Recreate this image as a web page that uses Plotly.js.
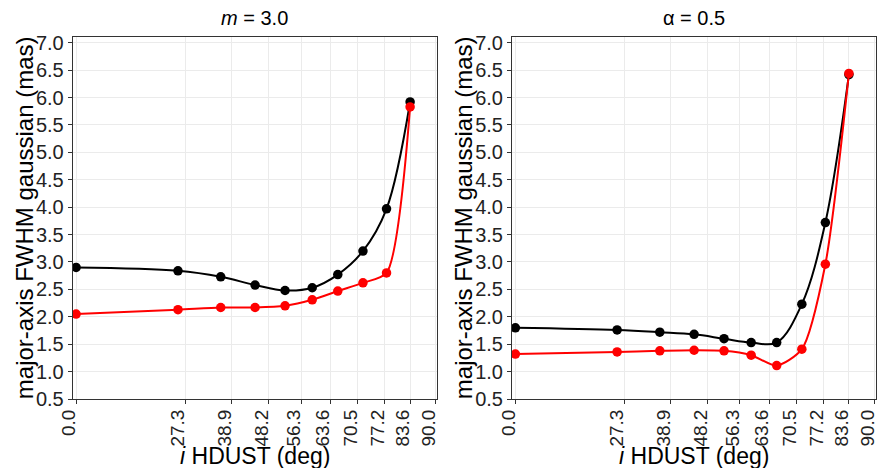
<!DOCTYPE html>
<html>
<head>
<meta charset="utf-8">
<script src="https://cdn.plot.ly/plotly-3.0.1.min.js"></script>
<style>html,body{margin:0;padding:0;background:#fff}#chart{width:877px;height:468px}</style>
</head>
<body>
<div id="chart"></div>
<script>
// Inclination (deg) of the model points
const incl = [0.0, 25.5, 36.2, 44.8, 52.3, 59.1, 65.5, 71.8, 77.7, 83.6];
// Tick values/labels on the x axis
const xTicks = [0.0, 27.3, 38.9, 48.2, 56.3, 63.6, 70.5, 77.2, 83.6, 90.0];
const xTickText = ["0.0", "27.3", "38.9", "48.2", "56.3", "63.6", "70.5", "77.2", "83.6", "90.0"];
// Left panel (m = 3.0)
const leftBlack = [2.90, 2.84, 2.73, 2.58, 2.48, 2.53, 2.77, 3.20, 3.97, 5.92];
const leftRed   = [2.05, 2.13, 2.17, 2.17, 2.20, 2.31, 2.47, 2.62, 2.80, 5.83];
// Right panel (alpha = 0.5)
const rightBlack = [1.80, 1.76, 1.72, 1.68, 1.60, 1.53, 1.53, 2.23, 3.72, 6.42];
const rightRed   = [1.32, 1.36, 1.38, 1.39, 1.38, 1.30, 1.11, 1.41, 2.96, 6.44];
const panelTitles = ["<i>m</i> = 3.0", "\u03b1 = 0.5"];
const xTitle = "<i>i</i> HDUST (deg)";
const yTitle = "major-axis FWHM gaussian (mas)";

const FONT = "Liberation Sans, Arial, sans-serif";

function traces(yB, yR, xa, ya) {
  return [
    {x: incl, y: yB, xaxis: xa, yaxis: ya, type: 'scatter', mode: 'lines+markers',
     line: {color: '#000', width: 2, shape: 'spline', smoothing: 1},
     marker: {color: '#000', size: 9.5}, showlegend: false, hoverinfo: 'x+y'},
    {x: incl, y: yR, xaxis: xa, yaxis: ya, type: 'scatter', mode: 'lines+markers',
     line: {color: '#ff0000', width: 2, shape: 'spline', smoothing: 0.7},
     marker: {color: '#ff0000', size: 9.5}, showlegend: false, hoverinfo: 'x+y'}
  ];
}

const data = [].concat(
  traces(leftBlack, leftRed, 'x', 'y'),
  traces(rightBlack, rightRed, 'x2', 'y2')
);

function xax(domain, anchor) {
  return {
    domain: domain, anchor: anchor, range: [-0.85, 90.4],
    tickmode: 'array', tickvals: xTicks, ticktext: xTickText, tickangle: -90,
    ticks: 'outside', ticklen: 4, tickcolor: '#333', tickwidth: 1,
    ticklabelshift: -7, ticklabelstandoff: -2, ticklabeloverflow: 'allow',
    showline: true, linecolor: '#333', linewidth: 1, mirror: true,
    showgrid: true, gridcolor: '#ebebeb', gridwidth: 1, zeroline: false,
    tickfont: {family: FONT, size: 19, color: '#222'},
    automargin: false
  };
}
function yax(domain, anchor) {
  return {
    domain: domain, anchor: anchor, range: [0.5, 7.1],
    tickmode: 'linear', tick0: 0.5, dtick: 0.5, tickformat: '.1f',
    ticks: 'outside', ticklen: 4, tickcolor: '#333', tickwidth: 1,
    showline: true, linecolor: '#333', linewidth: 1, mirror: true,
    showgrid: true, gridcolor: '#ebebeb', gridwidth: 1, zeroline: false,
    tickfont: {family: FONT, size: 20, color: '#222'},
    automargin: false
  };
}

const yDom = [0.1474, 0.9203];
const xDomL = [0.0829, 0.4986], xDomR = [0.5838, 0.9989];
const yMid = (yDom[0] + yDom[1]) / 2;
function ann(text, x, y, size, angle) {
  return {text: text, xref: 'paper', yref: 'paper', x: x, y: y, xanchor: 'center', yanchor: 'middle',
          showarrow: false, textangle: angle || 0, font: {family: FONT, size: size, color: '#000'}};
}
const layout = {
  width: 877, height: 468,
  margin: {l: 0, r: 0, t: 0, b: 0},
  paper_bgcolor: '#fff', plot_bgcolor: '#fff',
  font: {family: FONT, color: '#000'},
  showlegend: false,
  xaxis: xax(xDomL, 'y'),
  yaxis: yax(yDom, 'x'),
  xaxis2: xax(xDomR, 'y2'),
  yaxis2: yax(yDom, 'x2'),
  annotations: [
    ann(panelTitles[0], (xDomL[0] + xDomL[1]) / 2, 1 - 18 / 468, 20),
    ann(panelTitles[1], (xDomR[0] + xDomR[1]) / 2, 1 - 18 / 468, 20),
    ann(xTitle, (xDomL[0] + xDomL[1]) / 2, 1 - 456 / 468, 23),
    ann(xTitle, (xDomR[0] + xDomR[1]) / 2, 1 - 456 / 468, 23),
    ann(yTitle, 24 / 877, yMid, 24, -90),
    ann(yTitle, 463 / 877, yMid, 24, -90)
  ]
};

Plotly.newPlot('chart', data, layout, {displayModeBar: false, staticPlot: true});
</script>
</body>
</html>
